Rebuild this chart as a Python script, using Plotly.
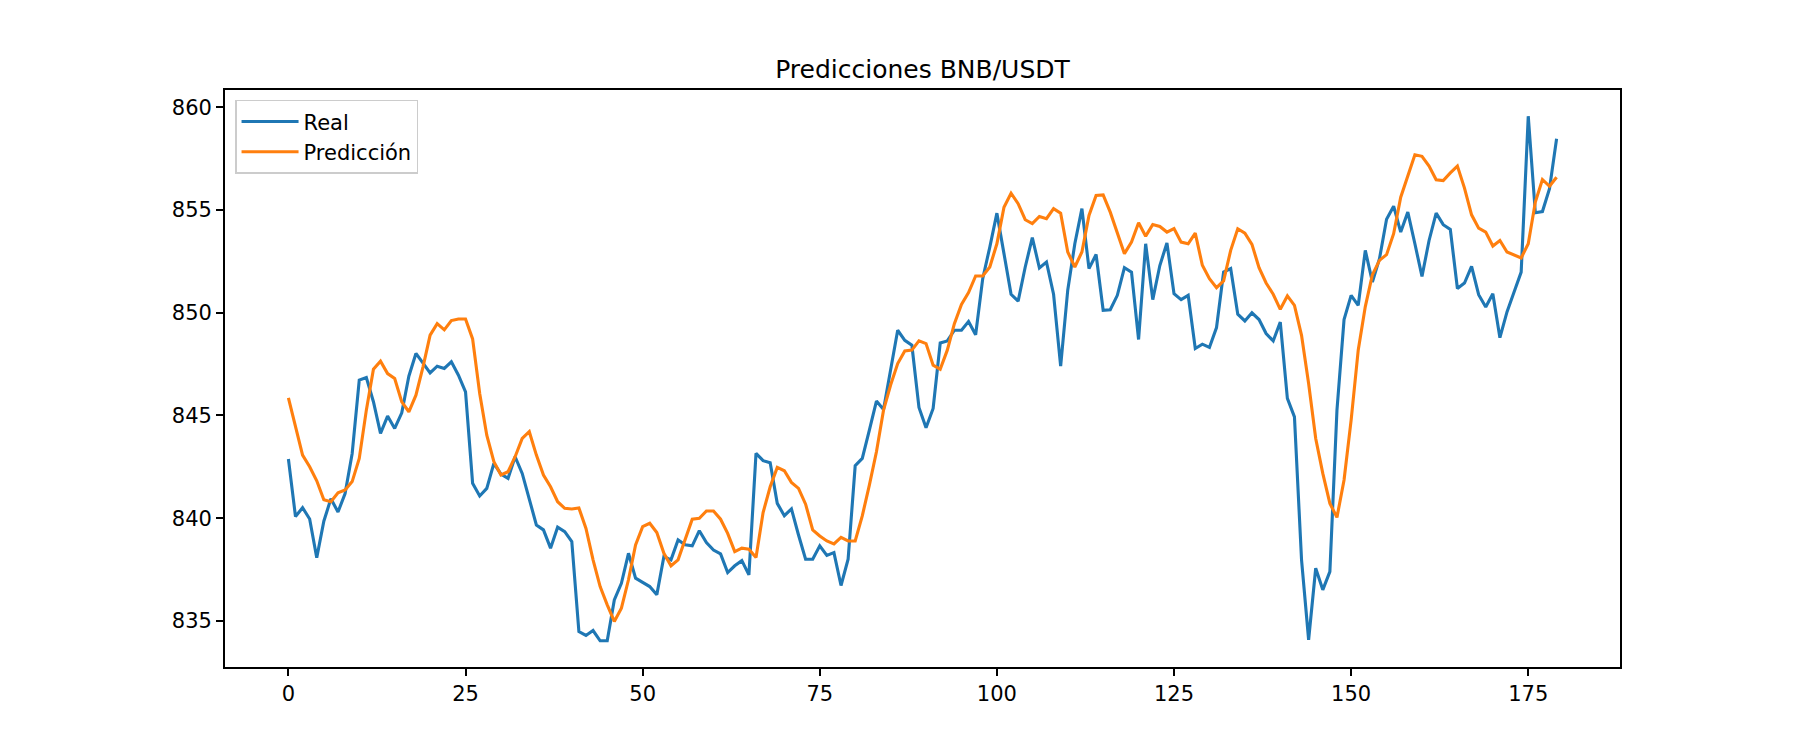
import plotly.graph_objects as go

titulo = "Predicciones BNB/USDT"
nombres = ["Real", "Predicción"]
colores = ["#1f77b4", "#ff7f0e"]
ticks_x = [0, 25, 50, 75, 100, 125, 150, 175]
ticks_y = [835, 840, 845, 850, 855, 860]

real = [
    842.88, 840.08, 840.51, 839.96, 838.07, 839.85, 840.95, 840.30, 841.20, 843.15,
    846.72, 846.85, 845.67, 844.13, 844.97, 844.37, 845.13, 846.91, 848.02, 847.53,
    847.07, 847.40, 847.29, 847.61, 846.96, 846.15, 841.70, 841.08, 841.45, 842.67,
    842.15, 841.94, 842.99, 842.18, 840.88, 839.67, 839.43, 838.54, 839.56, 839.34,
    838.86, 834.48, 834.29, 834.53, 834.03, 834.03, 836.02, 836.83, 838.29, 837.08,
    836.87, 836.67, 836.27, 838.13, 837.97, 838.94, 838.70, 838.65, 839.39, 838.81,
    838.45, 838.26, 837.35, 837.68, 837.93, 837.24, 843.15, 842.80, 842.70, 840.72,
    840.12, 840.45, 839.18, 838.00, 838.00, 838.65, 838.19, 838.32, 836.72, 838.00,
    842.55, 842.91, 844.29, 845.70, 845.29, 847.20, 849.15, 848.66, 848.42, 845.39,
    844.40, 845.34, 848.53, 848.63, 849.15, 849.15, 849.57, 848.93, 851.66, 853.20,
    854.85, 852.88, 850.90, 850.57, 852.23, 853.66, 852.18, 852.47, 850.90, 847.40,
    851.10, 853.36, 855.07, 852.15, 852.84, 850.12, 850.15, 850.85, 852.20, 851.98,
    848.70, 853.36, 850.64, 852.30, 853.40, 850.93, 850.64, 850.85, 848.26, 848.47,
    848.31, 849.28, 851.98, 852.15, 849.93, 849.60, 850.00, 849.67, 848.99, 848.63,
    849.55, 845.83, 844.93, 837.97, 834.08, 837.56, 836.51, 837.40, 845.26, 849.67,
    850.85, 850.36, 853.04, 851.50, 852.63, 854.55, 855.19, 853.93, 854.90, 853.36,
    851.77, 853.52, 854.85, 854.29, 854.06, 851.18, 851.45, 852.26, 850.88, 850.28,
    850.93, 848.79, 850.04, 851.01, 851.98, 859.57, 854.87, 854.93, 856.04, 858.47,
]

prediccion = [
    845.86, 844.45, 843.07, 842.50, 841.82, 840.90, 840.80, 841.24, 841.37, 841.78,
    842.91, 845.26, 847.25, 847.64, 847.04, 846.80, 845.66, 845.18, 845.99, 847.37,
    848.91, 849.47, 849.17, 849.62, 849.70, 849.70, 848.73, 846.07, 844.04, 842.75,
    842.10, 842.26, 842.99, 843.88, 844.21, 843.07, 842.10, 841.53, 840.80, 840.48,
    840.45, 840.50, 839.50, 837.97, 836.67, 835.78, 834.97, 835.62, 837.00, 838.70,
    839.59, 839.75, 839.30, 838.29, 837.68, 837.97, 838.94, 839.95, 839.99, 840.35,
    840.35, 839.95, 839.26, 838.37, 838.54, 838.49, 838.08, 840.27, 841.53, 842.47,
    842.31, 841.74, 841.45, 840.68, 839.43, 839.13, 838.89, 838.75, 839.07, 838.89,
    838.89, 840.11, 841.61, 843.23, 845.26, 846.48, 847.53, 848.14, 848.18, 848.63,
    848.50, 847.45, 847.25, 848.18, 849.47, 850.41, 850.98, 851.79, 851.79, 852.23,
    853.36, 855.14, 855.82, 855.31, 854.53, 854.34, 854.69, 854.58, 855.07, 854.85,
    852.96, 852.23, 852.96, 854.74, 855.71, 855.74, 854.90, 853.85, 852.88, 853.44,
    854.38, 853.73, 854.30, 854.20, 853.93, 854.10, 853.44, 853.36, 853.88, 852.31,
    851.66, 851.22, 851.55, 853.04, 854.09, 853.88, 853.33, 852.20, 851.45, 850.90,
    850.17, 850.82, 850.36, 848.90, 846.56, 843.88, 842.18, 840.72, 840.04, 841.86,
    844.77, 848.18, 850.30, 851.85, 852.55, 852.83, 853.85, 855.63, 856.68, 857.69,
    857.62, 857.14, 856.48, 856.44, 856.81, 857.14, 856.07, 854.77, 854.12, 853.93,
    853.25, 853.52, 852.96, 852.83, 852.67, 853.36, 855.39, 856.49, 856.16, 856.60,
]

indice = list(range(len(real)))

fig = go.Figure()
for serie, nombre, color in zip([real, prediccion], nombres, colores):
    fig.add_trace(go.Scatter(x=indice, y=serie, mode="lines", name=nombre,
                             line=dict(color=color, width=3.1)))

# margen del 5% como matplotlib
x_min, x_max = indice[0], indice[-1]
dx = (x_max - x_min) * 0.05
todos = real + prediccion
y_min, y_max = min(todos), max(todos)
dy = (y_max - y_min) * 0.05

eje = dict(showgrid=False, zeroline=False, showline=True, linecolor="black",
           linewidth=1.7, mirror=True, ticks="outside", ticklen=7, tickwidth=1.7,
           tickcolor="black", tickfont=dict(size=21, color="black"))

# el body del html añade 8px arriba/izquierda: se descuentan del margen
fig.update_layout(
    width=1800, height=750,
    margin=dict(l=217, r=188, t=82, b=91),
    paper_bgcolor="white", plot_bgcolor="white",
    font=dict(family="DejaVu Sans", color="black"),
    title=dict(text=titulo, x=0.5, xref="paper", xanchor="center",
               y=1, yref="paper", yanchor="bottom", pad=dict(b=12),
               font=dict(size=25, color="black")),
    xaxis=dict(range=[x_min - dx, x_max + dx], tickvals=ticks_x, **eje),
    yaxis=dict(range=[y_min - dy, y_max + dy], tickvals=ticks_y, **eje),
    legend=dict(x=0.0072, y=0.983, xanchor="left", yanchor="top",
                bgcolor="rgba(255,255,255,0.8)", bordercolor="#cccccc", borderwidth=1.5,
                font=dict(size=21, color="black"), tracegroupgap=0, itemwidth=57),
    showlegend=True,
)

fig.write_html("out.html")
